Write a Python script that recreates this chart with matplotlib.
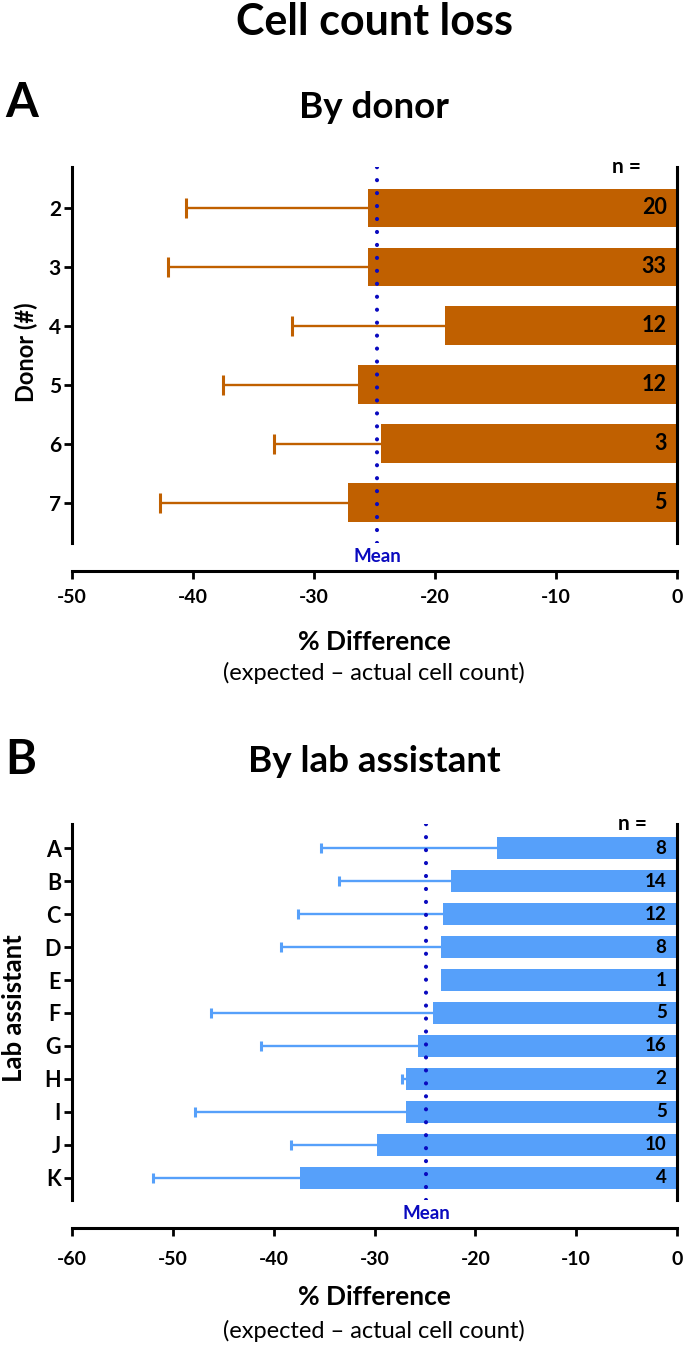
import numpy as np
import matplotlib.pyplot as plt

plt.rcParams['font.family'] = ['Lato', 'DejaVu Sans']
plt.rcParams['font.weight'] = 'bold'
plt.rcParams['axes.unicode_minus'] = False

# Panel A - by donor
donors = ['2', '3', '4', '5', '6', '7']
donor_mean = np.array([-25.5, -25.5, -19.2, -26.4, -24.5, -27.2])
donor_err = np.array([15.1, 16.6, 12.6, 11.1, 8.8, 15.5])
donor_n = [20, 33, 12, 12, 3, 5]
donor_overall = -24.8

# Panel B - by lab assistant
assistants = ['A', 'B', 'C', 'D', 'E', 'F', 'G', 'H', 'I', 'J', 'K']
asst_mean = np.array([-17.9, -22.4, -23.2, -23.4, -23.4, -24.2, -25.7, -26.9, -26.9, -29.8, -37.4])
asst_err = np.array([17.4, 11.1, 14.4, 15.9, 0.0, 22.0, 15.6, 0.4, 20.9, 8.5, 14.6])
asst_n = [8, 14, 12, 8, 1, 5, 16, 2, 5, 10, 4]
asst_overall = -24.9

orange = '#C06000'
blue = '#56A0FA'
meancol = '#0A0ABF'

W, H = 685, 1345
fig = plt.figure(figsize=(W / 100, H / 100), dpi=100)


def panel(ax, labels, means, errs, ns, overall, color, xmin, capsize, lsize, nsize, pad_top, pad_bot, xpad):
    y = np.arange(len(labels))
    ax.spines['bottom'].set_position(('outward', 20))
    ax.spines['top'].set_visible(False)
    ax.barh(y, means, height=0.66, color=color, zorder=2)
    # one-sided error bars (lower side only)
    has = errs > 0
    ax.hlines(y[has], means[has] - errs[has], means[has], color=color, lw=1.7, zorder=1)
    ax.plot(means[has] - errs[has], y[has], ls='none', marker='|', ms=capsize, mew=2.2,
            color=color, zorder=1)
    ax.axvline(overall, color=meancol, lw=3, dashes=(0.01, 3.1), dash_capstyle='round', zorder=3)
    for yi, n in zip(y, ns):
        ax.annotate(str(n), xy=(0, yi), xytext=(-7.5, 0), textcoords='offset points',
                    ha='right', va='center', fontsize=nsize, zorder=4)
    ax.annotate('n =', xy=(-3.0, 1), xycoords=('data', 'axes fraction'), ha='right', va='center',
                fontsize=15, annotation_clip=False)
    ax.annotate('Mean', xy=(overall, 0), xycoords=('data', 'axes fraction'), xytext=(0, -10),
                textcoords='offset points', ha='center', va='center', color=meancol,
                fontsize=13.5, annotation_clip=False)
    ax.set_xlim(xmin, 0)
    ax.set_ylim(len(labels) - 0.5 + pad_bot, -0.5 - pad_top)
    ax.set_yticks(y, labels)
    ax.set_xticks(np.arange(xmin, 1, 10))
    for s in ['left', 'right', 'bottom']:
        ax.spines[s].set_linewidth(2.2)
    ax.tick_params(axis='y', length=6, width=2, pad=2, labelsize=lsize)
    ax.tick_params(axis='x', length=6, width=2, pad=xpad, labelsize=14)


axA = fig.add_axes([72 / W, 1 - 543 / H, 605 / W, 376 / H])
panel(axA, donors, donor_mean, donor_err, donor_n, donor_overall, orange, -50, 14.5,
      15, 15.5, 0.195, 0.18, 7)
axB = fig.add_axes([72 / W, 1 - 1200 / H, 605 / W, 376 / H])
panel(axB, assistants, asst_mean, asst_err, asst_n, asst_overall, blue, -60, 7.5,
      15.5, 13.5, 0.23, 0.17, 11)

fig.text(26 / W, 1 - 352 / H, 'Donor (#)', rotation=90, ha='center', va='center', fontsize=17)
fig.text(14 / W, 1 - 1008 / H, 'Lab assistant', rotation=90, ha='center', va='center', fontsize=18.5)

fig.text(0.546, 1 - 22 / H, 'Cell count loss', ha='center', va='center', fontsize=31)
fig.text(0.007, 1 - 103 / H, 'A', ha='left', va='center', fontsize=34)
fig.text(0.546, 1 - 107 / H, 'By donor', ha='center', va='center', fontsize=26.5)
fig.text(0.546, 1 - 642 / H, '% Difference', ha='center', va='center', fontsize=19)
fig.text(0.546, 1 - 673 / H, '(expected \u2013 actual cell count)', ha='center', va='center',
         fontsize=17, fontweight='normal')
fig.text(0.007, 1 - 760 / H, 'B', ha='left', va='center', fontsize=34)
fig.text(0.546, 1 - 762 / H, 'By lab assistant', ha='center', va='center', fontsize=26.5)
fig.text(0.546, 1 - 1297 / H, '% Difference', ha='center', va='center', fontsize=19)
fig.text(0.546, 1 - 1331 / H, '(expected \u2013 actual cell count)', ha='center', va='center',
         fontsize=17, fontweight='normal')

fig.savefig('out.png', dpi=100)
